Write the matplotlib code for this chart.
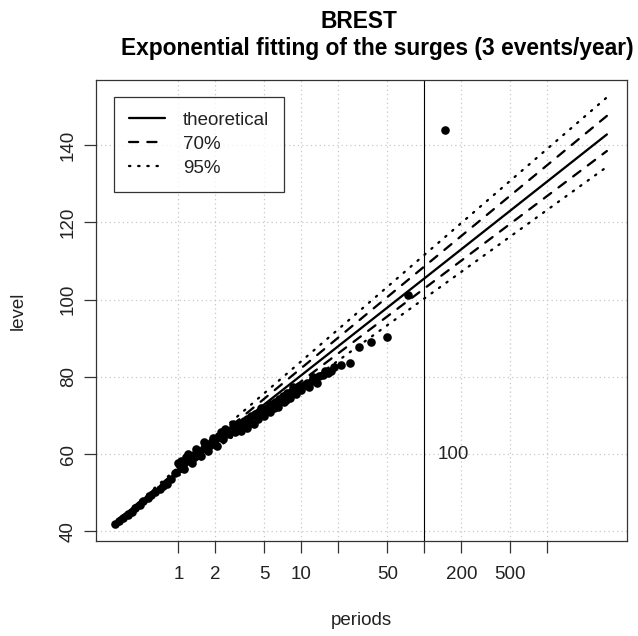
import matplotlib
matplotlib.use("Agg")
import matplotlib.pyplot as plt

plt.rcParams['font.family'] = ['Liberation Sans', 'DejaVu Sans']

# observed surges: return period (years) and level
periods = [0.307, 0.331, 0.357, 0.385, 0.415, 0.447, 0.482, 0.519, 0.560, 0.603,
           0.650, 0.701, 0.755, 0.814, 0.877, 0.945, 1.02, 1.10, 1.18, 1.28,
           1.37, 1.48, 1.60, 1.72, 1.85, 2.00, 2.15, 2.32, 2.50, 2.70,
           2.91, 3.13, 3.38, 3.64, 3.92, 4.23, 4.56, 4.91, 5.29, 5.70,
           6.15, 6.62, 7.14, 7.69, 8.29, 8.94, 9.63, 10.4, 11.2, 12.1,
           13.0, 14.0, 15.1, 16.3, 17.5,
           1.05, 1.20, 1.40, 1.62, 1.90, 2.20, 1.10, 1.30, 1.52, 1.75,
           2.05, 2.90, 3.20, 3.60, 4.10, 6.0, 7.5, 9.0,
           3.3, 3.8, 4.4, 5.0, 5.6, 6.4, 7.2, 8.0, 10.0, 11.5, 13.5,
           2.4, 2.8, 4.7, 5.5, 8.5, 12.5, 15.5,
           1.0, 1.15, 1.25, 1.45, 1.7, 2.3, 2.6,
           18.5, 21.1, 24.7, 29.6, 37.0, 49.3, 74.0, 148.0]
levels = [41.9, 42.7, 43.5, 44.3, 45.1, 46.0, 46.9, 47.8, 48.6, 49.4,
          50.2, 50.9, 51.6, 52.3, 53.6, 55.2, 56.8, 57.7, 58.5, 59.2,
          59.9, 60.9, 61.5, 62.0, 62.9, 63.6, 64.3, 65.0, 65.5, 66.6,
          67.6, 68.0, 68.6, 69.2, 69.9, 70.3, 70.6, 71.2, 71.8, 72.6,
          73.5, 74.3, 75.1, 75.7, 76.2, 76.9, 77.5, 78.0, 78.5, 79.0,
          79.6, 80.1, 80.6, 81.0, 81.4,
          58.3, 60.0, 61.4, 63.0, 64.2, 65.6, 56.2, 57.8, 59.4, 60.7,
          62.2, 65.6, 66.0, 66.8, 67.7, 72.0, 74.0, 75.6,
          67.0, 68.0, 69.0, 69.8, 70.8, 72.2, 73.6, 74.6, 76.6, 77.4, 78.4,
          66.4, 67.8, 71.8, 73.0, 77.3, 80.0, 81.5,
          57.6, 59.2, 58.4, 60.2, 61.7, 64.0, 65.2,
          82.6, 83.1, 83.7, 87.8, 89.1, 90.2, 101.2, 143.9]

# fitted exponential return levels and confidence bounds
fit_periods = [0.33, 100, 3050]
theoretical = [43.3, 105.5, 142.8]
upper_70 = [43.3, 108.6, 147.6]
lower_70 = [43.3, 102.9, 138.5]
upper_95 = [43.3, 111.6, 152.4]
lower_95 = [43.3, 100.3, 134.4]

xticks = [1, 2, 5, 10, 20, 50, 100, 200, 500, 1000]
xticklabels = ['1', '2', '5', '10', '', '50', '', '200', '500', '']
yticks = [40, 60, 80, 100, 120, 140]

fig = plt.figure(figsize=(6.38, 6.36), dpi=100)
ax = fig.add_axes([0.150, 0.1498, 0.832, 0.7244])

ax.set_xscale('log')
ax.set_xlim(0.2122, 4406)
ax.set_ylim(37.54, 156.9)

lw = 1.65
ax.plot(fit_periods, theoretical, color='black', lw=lw, solid_capstyle='round', label='theoretical')
ax.plot(fit_periods, upper_70, color='black', lw=lw, dashes=(4, 4), dash_capstyle='round', label='70%')
ax.plot(fit_periods, lower_70, color='black', lw=lw, dashes=(4, 4), dash_capstyle='round')
ax.plot(fit_periods, upper_95, color='black', lw=lw, dashes=(0.6, 3.4), dash_capstyle='round', label='95%')
ax.plot(fit_periods, lower_95, color='black', lw=lw, dashes=(0.6, 3.4), dash_capstyle='round')
ax.plot(periods, levels, 'o', color='black', ms=6.2, mec='black', mew=0)

ax.axvline(100, color='black', lw=0.8)
ax.annotate('100', (100, 60), xytext=(9.4, 0), textcoords='offset points',
            ha='left', va='center', fontsize=13.5, color='#222222')

ax.set_xticks(xticks)
ax.set_xticklabels(xticklabels)
ax.minorticks_off()
ax.set_yticks(yticks)
ax.set_yticklabels([str(v) for v in yticks], rotation=90, va='center')
ax.tick_params(axis='both', length=8.6, width=0.9, color='#333333', labelsize=13.5,
               labelcolor='#222222', direction='out')
ax.tick_params(axis='x', pad=9.5)
ax.tick_params(axis='y', pad=5)
ax.grid(True, color='#c8c8c8', linestyle=(0, (1, 2.5)), lw=0.9)
for s in ax.spines.values():
    s.set_color('#333333')
    s.set_linewidth(0.9)

ax.set_xlabel('periods', fontsize=13.5, color='#222222')
ax.xaxis.set_label_coords(0.5, -0.155)
ax.set_ylabel('level', fontsize=13.5, color='#222222')
ax.yaxis.set_label_coords(-0.129, 0.5)

fig.text(359 / 638, 1 - 22 / 636, 'BREST', ha='center', va='center',
         fontsize=16.4, fontweight='bold')
fig.text(377 / 638, 1 - 48 / 636, 'Exponential fitting of the surges (3 events/year)',
         ha='center', va='center', fontsize=16.4, fontweight='bold')

leg = ax.legend(loc='upper left', bbox_to_anchor=(0.0345, 0.9637), borderaxespad=0,
                fontsize=13.5, frameon=True, fancybox=False, edgecolor='black',
                handlelength=1.92, handletextpad=0.95, borderpad=0.8, labelspacing=0.36)
leg.get_frame().set_linewidth(0.9)
for t in leg.get_texts():
    t.set_color('#222222')

fig.savefig('out.png', dpi=100)
